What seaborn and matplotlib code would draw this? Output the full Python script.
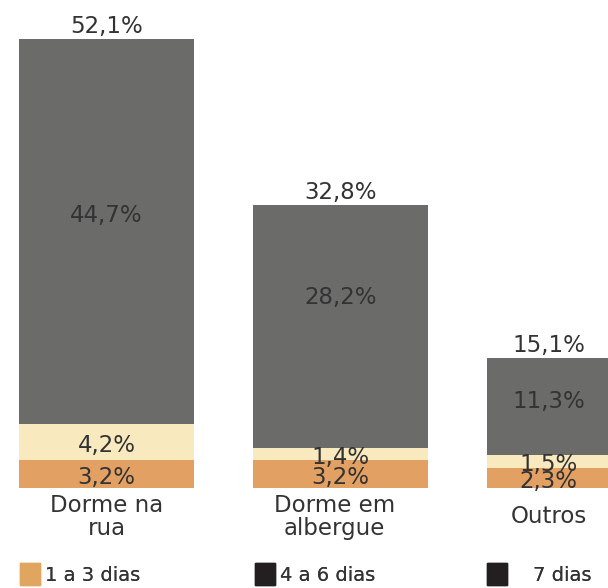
import matplotlib
matplotlib.use("Agg")
import matplotlib.pyplot as plt
import matplotlib.patches as mpatches
import seaborn as sns
import pandas as pd
import numpy as np

categories = ["Dorme na\nrua", "Dorme em\nalbergue", "Outros"]
d1_3 = [3.2, 3.2, 2.3]
d4_6 = [4.2, 1.4, 1.5]
d7 = [44.7, 28.2, 11.3]
totals = [52.1, 32.8, 15.1]
legend_labels = ["1 a 3 dias", "4 a 6 dias", "7 dias"]

c_orange = "#E3A063"
c_cream = "#F8E9BE"
c_gray = "#6B6B69"
c_text = "#333333"

sns.set_theme(style="white")
plt.rcParams["font.family"] = ["DejaVu Sans"]

df = pd.DataFrame({
    "cat": categories,
    "a": d1_3,
    "ab": np.array(d1_3) + np.array(d4_6),
    "abc": np.array(d1_3) + np.array(d4_6) + np.array(d7),
})

fig = plt.figure(figsize=(6.08, 5.88), dpi=100)
ax = fig.add_axes([0, 0, 1, 1])

for col, colr in [("abc", c_gray), ("ab", c_cream), ("a", c_orange)]:
    sns.barplot(data=df, x="cat", y=col, color=colr, width=0.75, ax=ax,
                saturation=1, linewidth=0, edgecolor="none")

ax.set_xlim(-0.455, 2.143)
ax.set_ylim(-11.6, 56.6)
ax.axis("off")

fs = 16.5
fmt = lambda v: f"{v:.1f}".replace(".", ",") + "%"
gray_offsets = [16, 29, 5]
x_off = [0, 0, -26]
for i in range(3):
    a, b, c, t = d1_3[i], d4_6[i], d7[i], totals[i]
    xo = x_off[i]
    ax.annotate(fmt(a), (i, a / 2), xytext=(xo, -3), textcoords="offset pixels",
                ha="center", va="center", fontsize=fs, color=c_text)
    ax.annotate(fmt(b), (i, a + b / 2), xytext=(xo, -3), textcoords="offset pixels",
                ha="center", va="center", fontsize=fs, color=c_text)
    ax.annotate(fmt(c), (i, a + b + c / 2), xytext=(xo, gray_offsets[i]), textcoords="offset pixels",
                ha="center", va="center", fontsize=fs, color=c_text)
    ax.annotate(fmt(t), (i, t), xytext=(xo, 1), textcoords="offset pixels",
                ha="center", va="bottom", fontsize=fs, color=c_text)

cat_x_off = [0, -6, -26]
for i, lab in enumerate(categories):
    ax.annotate(lab, (i, 0), xytext=(cat_x_off[i], -29), textcoords="offset pixels",
                ha="center", va="center", fontsize=fs, color=c_text, linespacing=0.95)

leg_colors = ["#E0A660", "#231F20", "#231F20"]
leg_x = [20, 255, 487]
leg_pad = [0.25, 0.25, 1.3]
for k in range(3):
    lg = fig.legend([mpatches.Patch(color=leg_colors[k])], [legend_labels[k]],
                    loc="lower left", bbox_to_anchor=(leg_x[k] / 608, 3 / 588),
                    frameon=False, fontsize=14, handlelength=1.05, handleheight=1.35,
                    handletextpad=leg_pad[k], labelcolor=c_text, borderaxespad=0,
                    borderpad=0)
    fig.add_artist(lg)

fig.savefig("out.png", dpi=100)
